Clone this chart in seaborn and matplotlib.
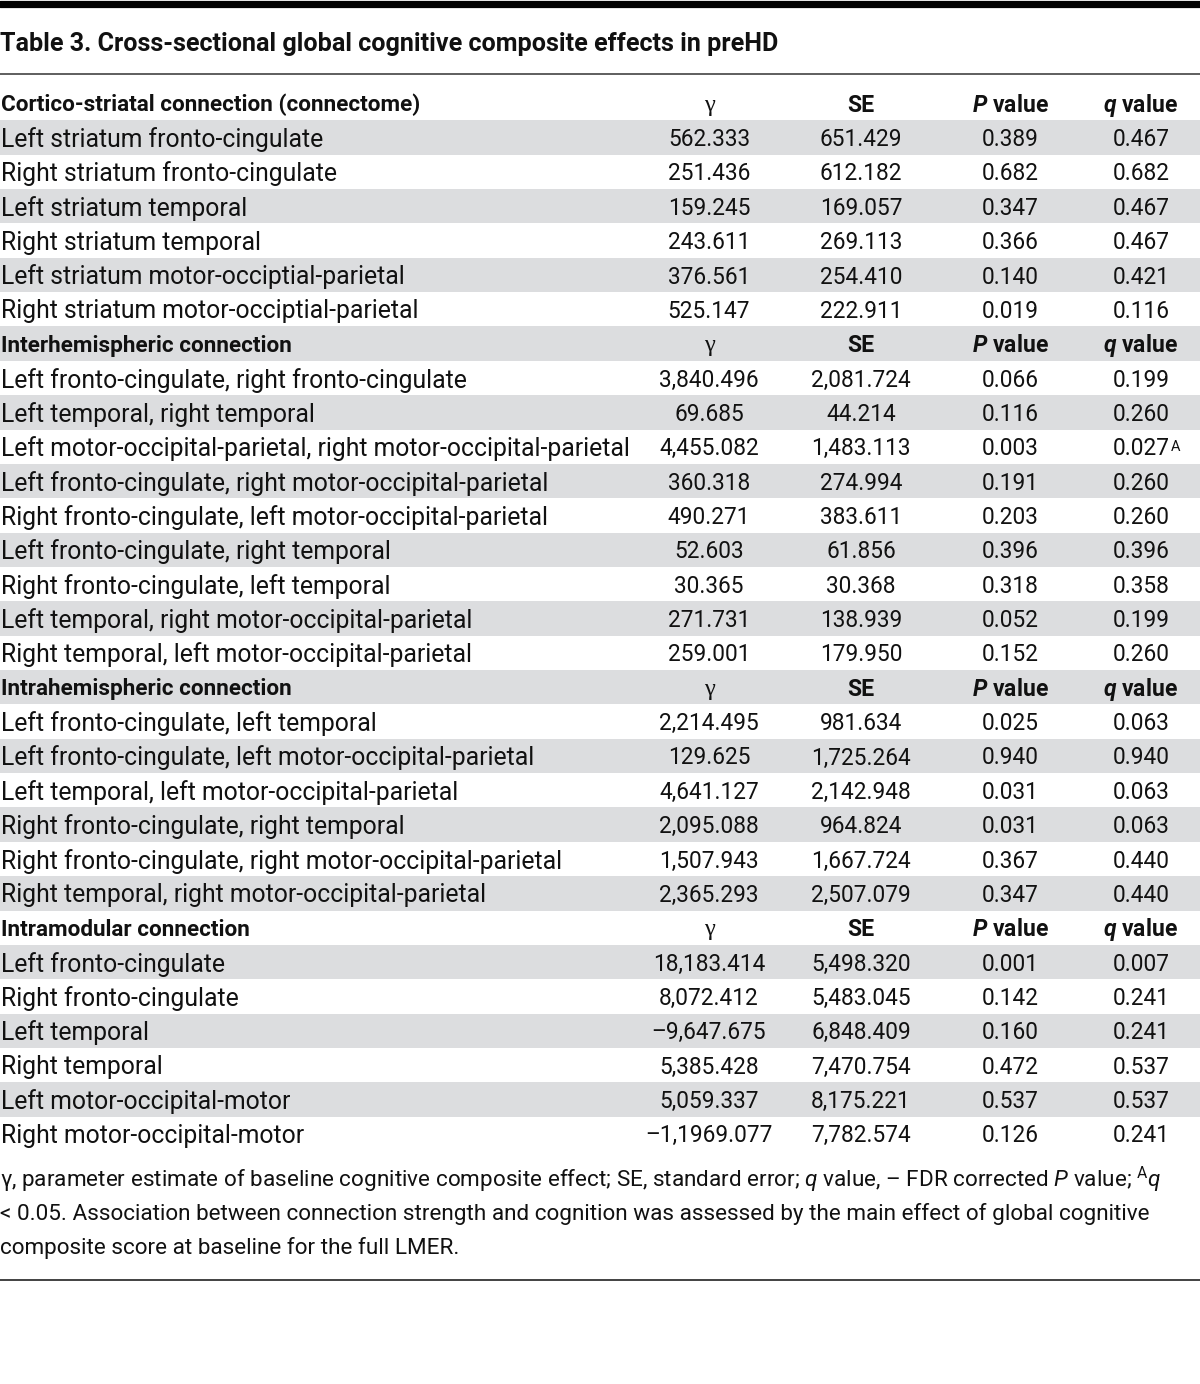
import numpy as np
import matplotlib
matplotlib.use("Agg")
import matplotlib.pyplot as plt
import matplotlib.transforms as mtransforms
from matplotlib.colors import ListedColormap
from matplotlib.lines import Line2D
import seaborn as sns

# Table content
title = "Table 3. Cross-sectional global cognitive composite effects in preHD"

sections = [
    "Cortico-striatal connection (connectome)",
    "Interhemispheric connection",
    "Intrahemispheric connection",
    "Intramodular connection",
]

cortico_labels = [
    "Left striatum fronto-cingulate",
    "Right striatum fronto-cingulate",
    "Left striatum temporal",
    "Right striatum temporal",
    "Left striatum motor-occiptial-parietal",
    "Right striatum motor-occiptial-parietal",
]
cortico_gamma = ["562.333", "251.436", "159.245", "243.611", "376.561", "525.147"]
cortico_se = ["651.429", "612.182", "169.057", "269.113", "254.410", "222.911"]
cortico_p = ["0.389", "0.682", "0.347", "0.366", "0.140", "0.019"]
cortico_q = ["0.467", "0.682", "0.467", "0.467", "0.421", "0.116"]

inter_labels = [
    "Left fronto-cingulate, right fronto-cingulate",
    "Left temporal, right temporal",
    "Left motor-occipital-parietal, right motor-occipital-parietal",
    "Left fronto-cingulate, right motor-occipital-parietal",
    "Right fronto-cingulate, left motor-occipital-parietal",
    "Left fronto-cingulate, right temporal",
    "Right fronto-cingulate, left temporal",
    "Left temporal, right motor-occipital-parietal",
    "Right temporal, left motor-occipital-parietal",
]
inter_gamma = ["3,840.496", "69.685", "4,455.082", "360.318", "490.271",
               "52.603", "30.365", "271.731", "259.001"]
inter_se = ["2,081.724", "44.214", "1,483.113", "274.994", "383.611",
            "61.856", "30.368", "138.939", "179.950"]
inter_p = ["0.066", "0.116", "0.003", "0.191", "0.203", "0.396", "0.318", "0.052", "0.152"]
inter_q = ["0.199", "0.260", "0.027", "0.260", "0.260", "0.396", "0.358", "0.199", "0.260"]

intra_labels = [
    "Left fronto-cingulate, left temporal",
    "Left fronto-cingulate, left motor-occipital-parietal",
    "Left temporal, left motor-occipital-parietal",
    "Right fronto-cingulate, right temporal",
    "Right fronto-cingulate, right motor-occipital-parietal",
    "Right temporal, right motor-occipital-parietal",
]
intra_gamma = ["2,214.495", "129.625", "4,641.127", "2,095.088", "1,507.943", "2,365.293"]
intra_se = ["981.634", "1,725.264", "2,142.948", "964.824", "1,667.724", "2,507.079"]
intra_p = ["0.025", "0.940", "0.031", "0.031", "0.367", "0.347"]
intra_q = ["0.063", "0.940", "0.063", "0.063", "0.440", "0.440"]

modular_labels = [
    "Left fronto-cingulate",
    "Right fronto-cingulate",
    "Left temporal",
    "Right temporal",
    "Left motor-occipital-motor",
    "Right motor-occipital-motor",
]
modular_gamma = ["18,183.414", "8,072.412", "\u20139,647.675", "5,385.428", "5,059.337", "\u20131,1969.077"]
modular_se = ["5,498.320", "5,483.045", "6,848.409", "7,470.754", "8,175.221", "7,782.574"]
modular_p = ["0.001", "0.142", "0.160", "0.472", "0.537", "0.126"]
modular_q = ["0.007", "0.241", "0.241", "0.537", "0.537", "0.241"]

# rows flagged with superscript A (q < 0.05)
flagged = [("Left motor-occipital-parietal, right motor-occipital-parietal", "A")]

col_headers = ["\u03b3", "SE", r"$\mathbfit{P}$ value", r"$\mathbfit{q}$ value"]

footnote = [
    "\u03b3, parameter estimate of baseline cognitive composite effect; SE, standard error; "
    r"$\mathit{q}$ value, " "\u2013" r" FDR corrected $\mathit{P}$ value; ${}^{\mathrm{A}}\mathit{q}$",
    "< 0.05. Association between connection strength and cognition was assessed by the main effect of global cognitive",
    "composite score at baseline for the full LMER.",
]

# Build row list
blocks = [
    (sections[0], cortico_labels, cortico_gamma, cortico_se, cortico_p, cortico_q),
    (sections[1], inter_labels, inter_gamma, inter_se, inter_p, inter_q),
    (sections[2], intra_labels, intra_gamma, intra_se, intra_p, intra_q),
    (sections[3], modular_labels, modular_gamma, modular_se, modular_p, modular_q),
]
rows = []
for name, labels, g, se, p, q in blocks:
    rows.append(("header", name, col_headers))
    for i in range(len(labels)):
        rows.append(("data", labels[i], [g[i], se[i], p[i], q[i]]))

n = len(rows)
shade = np.array([[i % 2] for i in range(n)])

# Styling
sns.set_theme(style="white")
FONT = "Roboto"
plt.rcParams["font.family"] = [FONT, "DejaVu Sans"]
plt.rcParams["mathtext.fontset"] = "custom"
plt.rcParams["mathtext.rm"] = FONT
plt.rcParams["mathtext.it"] = FONT + ":italic"
plt.rcParams["mathtext.bf"] = FONT + ":bold"
plt.rcParams["mathtext.bfit"] = FONT + ":italic:bold"

W, H = 1200, 1384
fig = plt.figure(figsize=(W / 100, H / 100), dpi=100)
fig.patch.set_facecolor("white")


def fy(px):
    return 1 - px / H


top_px, bot_px = 86, 1151
ax = fig.add_axes([0, fy(bot_px), 1, (bot_px - top_px) / H])
sns.heatmap(shade, ax=ax, cmap=ListedColormap(["white", "#dcdddf"]), vmin=0, vmax=1,
            cbar=False, xticklabels=False, yticklabels=False)
ax.set_axis_off()

trans = mtransforms.blended_transform_factory(ax.transAxes, ax.transData)
col_x = [709 / W, 861 / W, 1010 / W, 1141 / W]
label_fs = 17.8
section_fs = 16.2
num_fs = 16.3
colhead_fs = 16.6
text_color = "#111111"
dy = 0.06  # small downward nudge so glyphs sit on the row centre

sup_targets = []
for i, (kind, label, vals) in enumerate(rows):
    yc = i + 0.5 + dy
    if kind == "header":
        ax.text(0.001, yc, label, transform=trans, ha="left", va="center",
                fontsize=section_fs, fontweight="bold", color=text_color)
    else:
        ax.text(0.001, yc, label, transform=trans, ha="left", va="center",
                fontsize=label_fs, color=text_color)
    for j, v in enumerate(vals):
        if kind == "header":
            if j == 0:
                ax.text(col_x[j], yc, v, transform=trans, ha="center", va="center",
                        fontsize=colhead_fs + 1, family="Liberation Serif", color=text_color)
            else:
                ax.text(col_x[j], yc, v, transform=trans, ha="center", va="center",
                        fontsize=colhead_fs, fontweight="bold", color=text_color)
            continue
        t = ax.text(col_x[j], yc, v, transform=trans, ha="center", va="center",
                    fontsize=num_fs, color=text_color)
        if j == 3:
            for lab, mark in flagged:
                if lab == label:
                    sup_targets.append((t, mark))

# Title and rules
fig.text(0.0, fy(44), title, ha="left", va="center", fontsize=18.1,
         fontweight="bold", color=text_color)
fig.add_artist(Line2D([0, 1], [fy(3.5), fy(3.5)], lw=5.2, color="black"))
fig.add_artist(Line2D([0, 1], [fy(74), fy(74)], lw=1.1, color="#333333"))
fig.add_artist(Line2D([0, 1], [fy(1280), fy(1280)], lw=1.3, color="#333333"))

for k, line in enumerate(footnote):
    fig.text(0.0, fy(1180 + 34 * k), line, ha="left", va="center",
             fontsize=16.2, color=text_color)

# superscript marks next to flagged q values
fig.canvas.draw()
for t, mark in sup_targets:
    bb = t.get_window_extent()
    fig.text((bb.x1 + 1) / W, (bb.y1 - 3) / H, mark, ha="left", va="top",
             fontsize=10.5, color=text_color)

fig.savefig("out.png", dpi=100)
